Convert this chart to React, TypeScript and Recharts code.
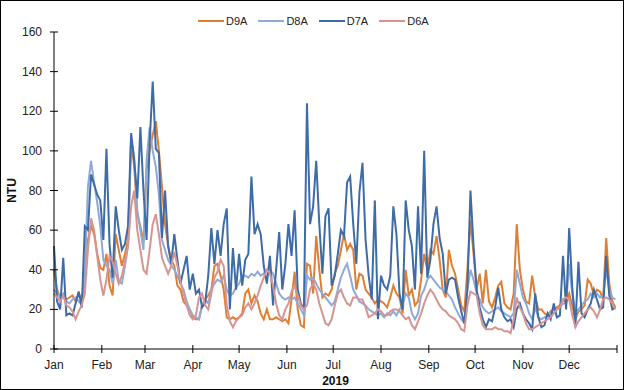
import { Line, LineChart, XAxis, YAxis } from "recharts";

// readings every 2nd day of 2019, starting 1 Jan
const STEP_DAYS = 2;

const D9A = [
  40, 30, 26, 27, 25, 26, 27, 24, 28, 25,
  34, 55, 62, 58, 48, 41, 40, 48, 32, 27,
  58, 50, 42, 48, 55, 105, 92, 68, 62, 54,
  90, 100, 108, 115, 100, 82, 63, 52, 45, 42,
  32, 30, 24, 22, 20, 16, 15, 15, 22, 25,
  27, 30, 42, 43, 37, 30, 16, 15, 16, 15,
  16, 18, 28, 30, 23, 27, 24, 18, 15, 20,
  15, 15, 16, 15, 14, 15, 13, 25, 39, 20,
  12, 11, 43, 42, 28, 57, 40, 26, 28, 27,
  30, 38, 42, 50, 58, 50, 53, 50, 30, 38,
  37, 30, 28, 26, 23, 25, 24, 23, 21, 26,
  32, 28, 26, 18, 40, 27, 30, 22, 24, 35,
  48, 40, 50, 48, 57, 45, 30, 26, 50, 42,
  38, 30, 22, 19, 40, 65, 48, 30, 38, 23,
  40, 24, 21, 26, 32, 34, 23, 21, 20, 28,
  63, 40, 30, 24, 23, 37, 26, 20, 20, 18,
  17, 19, 20, 21, 22, 25, 23, 28, 22, 15,
  19, 20, 22, 35, 33, 27, 30, 29, 25, 56,
  33, 24, 21,
];

const D8A = [
  30, 28, 26, 28, 24, 23, 25, 26, 24, 22,
  38, 82, 95, 84, 74, 62, 45, 42, 40, 33,
  45, 34, 33, 42, 52, 106, 97, 70, 60, 50,
  95, 112, 100, 92, 78, 55, 50, 45, 42, 40,
  37, 33, 30, 24, 20, 17, 16, 15, 22, 25,
  23, 30, 33, 35, 34, 37, 30, 27, 28, 31,
  33, 37, 37, 36, 38, 37, 39, 37, 38, 40,
  40, 38, 33, 28, 26, 25, 26, 25, 26, 23,
  20, 17, 37, 35, 36, 33, 30, 28, 26, 24,
  22, 24, 30, 36, 40, 43, 37, 30, 27, 24,
  23, 22, 20, 19, 18, 17, 18, 16, 18, 17,
  19, 17, 20, 22, 28, 26, 18, 15, 18, 27,
  30, 35, 37, 35, 33, 31, 30, 29, 27, 25,
  21, 18, 15, 13, 30, 40, 35, 28, 25, 21,
  19, 18, 19, 20, 21, 19, 18, 17, 16, 18,
  40, 33, 26, 23, 18, 15, 21, 16, 15, 16,
  17, 18, 18, 20, 21, 23, 23, 43, 28, 19,
  20, 22, 24, 25, 28, 26, 28, 26, 27, 40,
  30, 26, 25,
];

const D7A = [
  52, 24, 20, 46, 17, 18, 17, 23, 29, 21,
  62, 60, 88, 83, 78, 75, 55, 101, 53, 36,
  72, 60, 50, 53, 62, 109, 95, 76, 112, 80,
  55, 104, 135, 101, 99, 56, 80, 52, 43, 58,
  45, 33, 40, 47, 30, 38, 28, 30, 21, 23,
  37, 61, 43, 60, 47, 63, 71, 20, 51, 30,
  48, 32, 45, 48, 87, 58, 63, 58, 42, 33,
  47, 22, 40, 59, 30, 43, 63, 47, 70, 30,
  23, 20, 124, 63, 72, 95, 63, 38, 67, 71,
  32, 37, 48, 60, 57, 84, 87, 63, 43, 79,
  94, 55, 37, 25, 75, 15, 37, 32, 30, 37,
  72, 58, 28, 20, 75, 60, 52, 30, 72, 38,
  100, 36, 45, 63, 72, 56, 48, 28, 35, 36,
  35, 26, 19, 13, 30, 80, 52, 30, 21, 15,
  11, 15, 14, 21, 31, 20, 16, 14, 15, 11,
  20, 23, 18, 15, 13, 10, 28, 16, 11, 12,
  18, 15, 23, 16, 17, 47, 20, 61, 31, 11,
  44, 18, 16, 20, 23, 30, 25, 20, 21, 47,
  27, 20, 21,
];

const D6A = [
  28, 26, 24, 27, 22, 21, 19, 15, 19, 22,
  28, 50, 66, 60, 47, 35, 27, 35, 47, 44,
  38, 33, 37, 44, 52, 72, 80, 60, 50, 40,
  38, 50, 63, 68, 58, 46, 42, 38, 42, 49,
  42, 34, 28, 22, 17, 15, 17, 26, 28, 22,
  20, 28, 36, 39, 45, 42, 22, 14, 11, 14,
  16, 17, 21, 23, 20, 23, 27, 32, 36, 40,
  38, 32, 23, 17, 15, 20, 23, 29, 32, 27,
  22, 20, 22, 30, 33, 30, 23, 18, 13, 12,
  15, 22, 28, 30, 26, 23, 22, 26, 26, 25,
  25, 21, 16, 17, 18, 20, 19, 17, 17, 19,
  20, 20, 19, 17, 15, 16, 12, 10, 14, 18,
  23, 27, 30, 28, 25, 22, 20, 19, 17, 16,
  15, 13, 10, 9, 22, 29, 28, 27, 18, 12,
  10, 10, 10, 11, 10, 10, 9, 9, 8, 15,
  26, 21, 18, 13, 10, 10, 11, 12, 13, 14,
  15, 16, 18, 20, 21, 25, 26, 25, 17, 11,
  14, 16, 18, 20, 21, 19, 16, 20, 25, 26,
  25, 23, 20,
];

const MONTHS = ["Jan", "Feb", "Mar", "Apr", "May", "Jun", "Jul", "Aug", "Sep", "Oct", "Nov", "Dec"];
const MONTH_STARTS = [0, 31, 59, 90, 120, 151, 181, 212, 243, 273, 304, 334, 365];
const Y_TICKS = [0, 20, 40, 60, 80, 100, 120, 140, 160];

const SERIES = [
  { key: "D9A", color: "#E07E32" },
  { key: "D8A", color: "#8FAAD8" },
  { key: "D7A", color: "#3E6CA8" },
  { key: "D6A", color: "#D69492" },
];

const data = D7A.map((_, i) => ({
  day: i * STEP_DAYS,
  D9A: D9A[i],
  D8A: D8A[i],
  D7A: D7A[i],
  D6A: D6A[i],
}));

const XTick = (props: any) => {
  const { x, y, payload } = props;
  const idx = MONTH_STARTS.indexOf(payload.value);
  return (
    <g>
      <line x1={x} x2={x} y1={y - 4} y2={y + 4} stroke="#000" />
      <text x={x} y={y + 20} textAnchor="middle" fontSize={12} fill="#222">
        {MONTHS[idx] ?? ""}
      </text>
    </g>
  );
};

const YTick = (props: any) => {
  const { x, y, payload } = props;
  return (
    <g>
      <line x1={x - 4} x2={x + 4} y1={y} y2={y} stroke="#000" />
      <text x={x - 12} y={y + 4} textAnchor="end" fontSize={12} fill="#222">
        {payload.value}
      </text>
    </g>
  );
};

const App = () => {
  return (
    <div
      style={{
        position: "absolute",
        left: 0,
        top: 0,
        width: 624,
        height: 390,
        fontFamily: "'Liberation Sans', Arial, sans-serif",
        background: "#fff",
      }}
    >
      <div
        style={{
          position: "absolute",
          inset: 0,
          border: "1px solid #000",
          boxSizing: "border-box",
          pointerEvents: "none",
        }}
      />
      <div
        style={{
          position: "absolute",
          top: 14,
          left: 198,
          height: 14,
          display: "flex",
          alignItems: "center",
          fontSize: 11,
          color: "#222",
        }}
      >
        {SERIES.map((s) => (
          <div key={s.key} style={{ display: "flex", alignItems: "center", marginRight: 11 }}>
            <span style={{ display: "inline-block", width: 26, height: 2.5, background: s.color }} />
            <span style={{ marginLeft: 2 }}>{s.key}</span>
          </div>
        ))}
      </div>
      <LineChart
        width={624}
        height={390}
        data={data}
        margin={{ top: 32, right: 7, bottom: 0, left: 0 }}
      >
        <XAxis
          dataKey="day"
          type="number"
          domain={[0, 365]}
          ticks={MONTH_STARTS}
          interval={0}
          height={41}
          tickSize={0}
          tickMargin={0}
          tickLine={false}
          axisLine={{ stroke: "#000" }}
          tick={<XTick />}
          label={(p: any) => {
            const vb = p.viewBox;
            return (
              <text
                x={vb.x + vb.width / 2}
                y={vb.y + 36}
                textAnchor="middle"
                fontSize={12}
                fontWeight="bold"
                fill="#111"
              >
                2019
              </text>
            );
          }}
        />
        <YAxis
          type="number"
          domain={[0, 160]}
          ticks={Y_TICKS}
          interval={0}
          width={54}
          tickSize={0}
          tickMargin={0}
          tickLine={false}
          axisLine={{ stroke: "#000" }}
          tick={<YTick />}
          label={(p: any) => {
            const vb = p.viewBox;
            const cx = vb.x + 12;
            const cy = vb.y + vb.height / 2;
            return (
              <text
                x={cx}
                y={cy}
                transform={`rotate(-90, ${cx}, ${cy})`}
                textAnchor="middle"
                dominantBaseline="central"
                fontSize={12}
                fontWeight="bold"
                fill="#111"
              >
                NTU
              </text>
            );
          }}
        />
        {SERIES.map((s) => (
          <Line
            key={s.key}
            type="linear"
            dataKey={s.key}
            stroke={s.color}
            strokeWidth={2}
            dot={false}
            activeDot={false}
            isAnimationActive={false}
          />
        ))}
      </LineChart>
    </div>
  );
};

export default App;
